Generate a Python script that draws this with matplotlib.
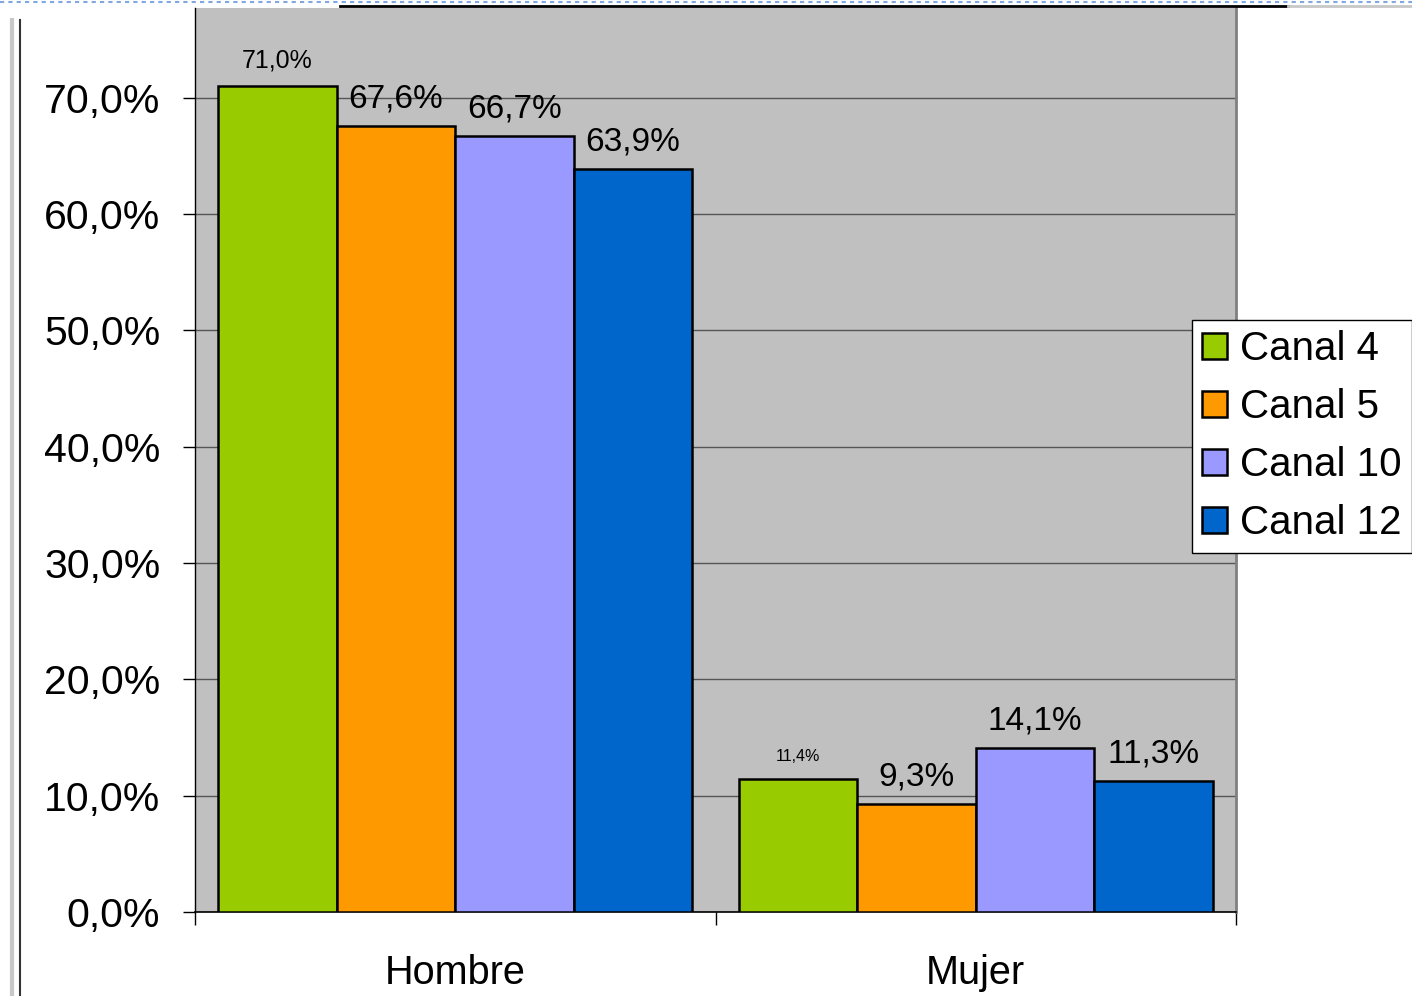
import matplotlib.pyplot as plt
from matplotlib.lines import Line2D
import numpy as np

plt.rcParams['font.family'] = ['Liberation Sans', 'DejaVu Sans']

categories = ["Hombre", "Mujer"]
series = ["Canal 4", "Canal 5", "Canal 10", "Canal 12"]
values = {
    "Canal 4": [71.0, 11.4],
    "Canal 5": [67.6, 9.3],
    "Canal 10": [66.7, 14.1],
    "Canal 12": [63.9, 11.3],
}
labels = {
    "Canal 4": ["71,0%", "11,4%"],
    "Canal 5": ["67,6%", "9,3%"],
    "Canal 10": ["66,7%", "14,1%"],
    "Canal 12": ["63,9%", "11,3%"],
}
yticks = [0, 10, 20, 30, 40, 50, 60, 70]
ytick_labels = ["0,0%", "10,0%", "20,0%", "30,0%", "40,0%", "50,0%", "60,0%", "70,0%"]

colors = ["#99CC00", "#FF9900", "#9999FF", "#0066CC"]
# label sizes as they appear in the original (some got shrunk)
label_sizes = {
    "Canal 4": [18, 11.5],
    "Canal 5": [24, 24],
    "Canal 10": [24, 24],
    "Canal 12": [24, 24],
}

W, H = 1412, 996
fig = plt.figure(figsize=(W / 100, H / 100), dpi=100)
ax = fig.add_axes([195 / W, 1 - 912 / H, (1236 - 195) / W, (912 - 8) / H])
ax.set_facecolor("#C0C0C0")

x = np.arange(len(categories))
width = 0.2277
for i, s in enumerate(series):
    pos = x + (i - 1.5) * width
    bars = ax.bar(pos, values[s], width, color=colors[i], edgecolor="black",
                  linewidth=1.8, label=s, zorder=3)
    for b, lab, fs in zip(bars, labels[s], label_sizes[s]):
        ax.annotate(lab, (b.get_x() + b.get_width() / 2, b.get_height()),
                    xytext=(0, 13), textcoords="offset points",
                    ha="center", va="baseline", fontsize=fs, zorder=4)

ax.set_xlim(-0.5, 1.5)
ax.set_ylim(0, 77.7)
ax.set_yticks(yticks)
ax.set_yticklabels(ytick_labels, fontsize=29.5)
ax.set_xticks(x)
ax.set_xticklabels(categories, fontsize=28.5)
ax.set_xticks([-0.5, 0.5, 1.5], minor=True)
ax.tick_params(axis="x", which="major", length=0, pad=30)
ax.tick_params(axis="x", which="minor", length=9, width=1, direction="out")
ax.tick_params(axis="y", length=9, width=1, direction="out", pad=16)
ax.yaxis.grid(True, color="#555555", linewidth=1)
ax.set_axisbelow(True)

ax.spines["top"].set_visible(False)
ax.spines["right"].set_color("#808080")
ax.spines["right"].set_linewidth(2)
ax.spines["left"].set_linewidth(1)
ax.spines["bottom"].set_linewidth(1.2)

leg = fig.legend(loc="upper left", bbox_to_anchor=(1192 / W, 1 - 320 / H),
                 fontsize=29, frameon=True, fancybox=False, framealpha=1,
                 edgecolor="black", handlelength=0.62, handleheight=0.62,
                 handletextpad=0.33, labelspacing=0.5, borderpad=0.25,
                 borderaxespad=0)
leg.get_frame().set_linewidth(1)

# spreadsheet bits around the chart
fig.add_artist(Line2D([20 / W, 20 / W], [0, 1 - 20 / H], color="#333333", lw=1.5))
fig.add_artist(Line2D([12 / W, 12 / W], [0, 1 - 20 / H], color="#C8C8C8", lw=3))
fig.add_artist(Line2D([0, 1], [1 - 2 / H, 1 - 2 / H], color="#7FA7E0", lw=1.5,
                      linestyle=(0, (2, 2))))
fig.add_artist(Line2D([340 / W, 1288 / W], [1 - 6 / H, 1 - 6 / H], color="black", lw=2))
fig.add_artist(Line2D([1288 / W, 1], [1 - 6 / H, 1 - 6 / H], color="#C8C8C8", lw=2))

fig.savefig("out.png", dpi=100)
